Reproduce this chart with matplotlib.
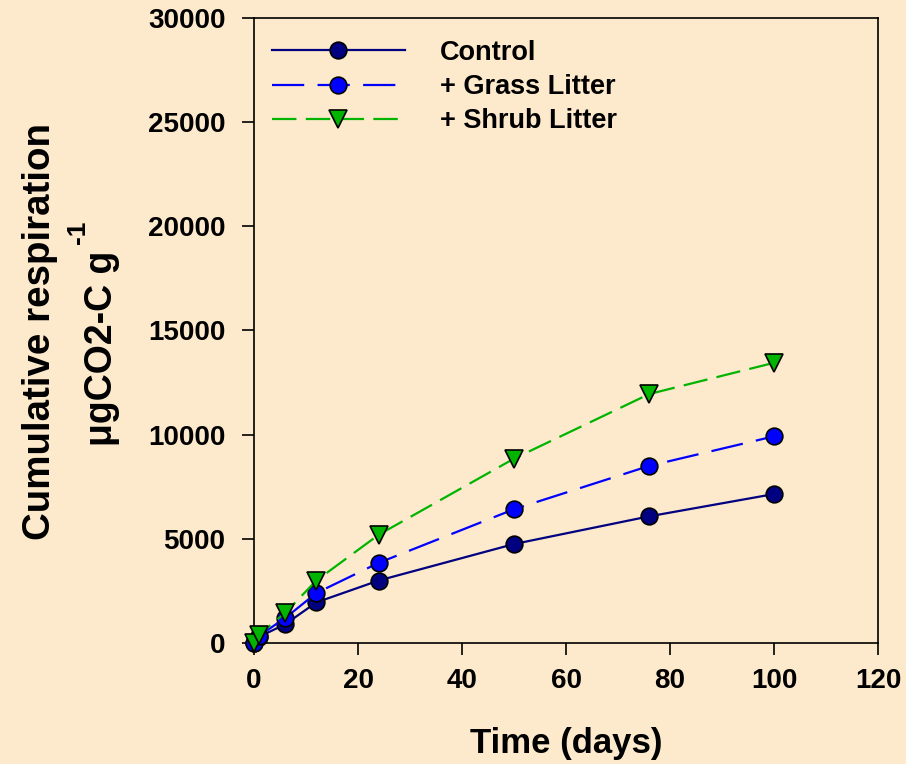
import matplotlib
matplotlib.use('Agg')
import matplotlib.pyplot as plt

# Data
days = [0, 1, 6, 12, 24, 50, 76, 100]
control = [0, 300, 900, 1950, 3000, 4750, 6080, 7150]
grass = [0, 350, 1200, 2400, 3850, 6420, 8500, 9920]
shrub = [0, 400, 1450, 3000, 5200, 8850, 11950, 13450]

x_ticks = [0, 20, 40, 60, 80, 100, 120]
y_ticks = [0, 5000, 10000, 15000, 20000, 25000, 30000]

bg = '#FDE9CB'
plt.rcParams['font.family'] = ['Liberation Sans', 'DejaVu Sans']
plt.rcParams['font.weight'] = 'bold'

W, H = 906, 764
fig = plt.figure(figsize=(W / 100, H / 100), dpi=100, facecolor=bg)
ax = fig.add_axes([254 / W, 121 / H, 624 / W, 625 / H])
ax.set_facecolor(bg)

ax.plot(days, control, color='#000080', lw=1.6, marker='o', ms=12,
        mfc='#000080', mec='black', mew=1.2, label='Control', zorder=3, clip_on=False)
ax.plot(days, grass, color='#0000FF', lw=1.6, dashes=(14.5, 6), marker='o', ms=12,
        mfc='#0000FF', mec='black', mew=1.2, label='+ Grass Litter', zorder=3, clip_on=False)
ax.plot(days, shrub, color='#00B400', lw=1.6, dashes=(11, 4.2), marker='v', ms=13,
        mfc='#00B400', mec='black', mew=1.2, label='+ Shrub Litter', zorder=3, clip_on=False)

ax.set_xlim(0, 120)
ax.set_ylim(0, 30000)
ax.set_xticks(x_ticks)
ax.set_yticks(y_ticks)
ax.tick_params(direction='out', length=8.6, width=1.2, labelsize=20)
ax.tick_params(axis='x', pad=9.5)
ax.tick_params(axis='y', pad=12)
for s in ax.spines.values():
    s.set_linewidth(1.2)

ax.legend(loc='upper left', bbox_to_anchor=(0.029, 0.965), frameon=False,
          fontsize=19.5, handlelength=4.9, handletextpad=1.3,
          labelspacing=0.3, borderpad=0, borderaxespad=0)

fig.text(566 / W, 1 - 744 / H, 'Time (days)', ha='center', va='center',
         fontsize=25, fontweight='bold')
fig.text(50 / W, 1 - 331 / H, 'Cumulative respiration', ha='center', va='baseline',
         rotation=90, rotation_mode='anchor', fontsize=27.7, fontweight='bold')
fig.text(112 / W, 1 - 348 / H, 'μgCO2-C g', ha='center', va='baseline',
         rotation=90, rotation_mode='anchor', fontsize=27, fontweight='bold')
fig.text(85 / W, 1 - 232 / H, '-1', ha='center', va='baseline',
         rotation=90, rotation_mode='anchor', fontsize=19, fontweight='bold')

fig.savefig('out.png', dpi=100, facecolor=bg)
